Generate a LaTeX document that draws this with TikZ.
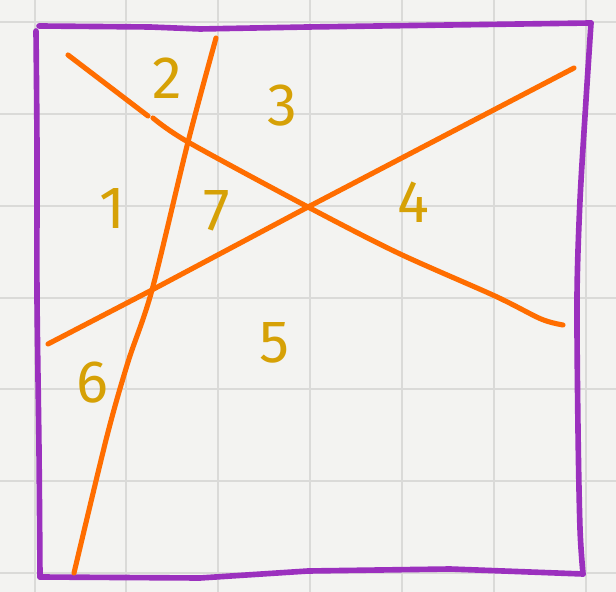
\documentclass[tikz,border=0pt]{standalone}
\usepackage{fontspec}
\setsansfont{Fira Sans}
\definecolor{paper}{HTML}{F3F3F1}
\definecolor{gridgray}{HTML}{DADAD8}
\definecolor{framepurple}{HTML}{9B30BE}
\definecolor{cutorange}{HTML}{FF6D00}
\definecolor{digitgold}{HTML}{D6A106}

\begin{document}
\begin{tikzpicture}[x=0.01cm, y=-0.01cm,
    gridline/.style={gridgray, line width=0.55pt},
    frame/.style={framepurple, line width=1.6pt, line cap=round, line join=round},
    cut/.style={cutorange, line width=1.45pt, line cap=round, line join=round},
    region/.style={digitgold, font=\sffamily\fontsize{17}{17}\selectfont}]
    % Paper
    \fill[paper] (0,0) rectangle (616,592);
    \useasboundingbox (0,0) rectangle (616,592);

    % Grid lines
    \draw[gridline] (35,0) -- (35,592);
    \draw[gridline] (126,0) -- (126,592);
    \draw[gridline] (218,0) -- (218,592);
    \draw[gridline] (310,0) -- (310,592);
    \draw[gridline] (402,0) -- (402,592);
    \draw[gridline] (494,0) -- (494,592);
    \draw[gridline] (586,0) -- (586,592);
    \draw[gridline] (0,22) -- (616,22);
    \draw[gridline] (0,114) -- (616,114);
    \draw[gridline] (0,206) -- (616,206);
    \draw[gridline] (0,298) -- (616,298);
    \draw[gridline] (0,389) -- (616,389);
    \draw[gridline] (0,481) -- (616,481);
    \draw[gridline] (0,573) -- (616,573);

    % Square
    \draw[frame] plot[smooth] coordinates {(36,31) (37,150) (37,296) (39,450) (40,577)};
    \draw[frame] (40,577) -- (200,578) -- (308,571) -- (450,569) -- (583,574);
    \draw[frame] plot[smooth] coordinates {(583,574) (580,529) (578,430) (577,296) (580,200) (586,100) (591,23)};
    \draw[frame] (591,23) -- (308,27) -- (200,29) -- (150,27) -- (39,26);

    % Cuts
    \draw[cut] (68,55) -- (148,116);
    \draw[cut] plot[smooth] coordinates {(153,118) (188,142) (308,207) (398,253) (495,296) (541,319) (563,325)};
    \draw[cut] (48,344) -- (150,291) -- (308,207) -- (574,68);
    \draw[cut] plot[smooth] coordinates {(216,38) (188,142) (152,290) (128,362) (107,436) (74,573)};

    % Regions
    \node[region] (r1) at (112,209) {1};
    \node[region] (r2) at (167,78) {2};
    \node[region] (r3) at (282,106) {3};
    \node[region] (r4) at (413,202) {4};
    \node[region] (r5) at (274,343) {5};
    \node[region] (r6) at (92,383) {6};
    \node[region] (r7) at (217,211) {7};
\end{tikzpicture}
\end{document}
